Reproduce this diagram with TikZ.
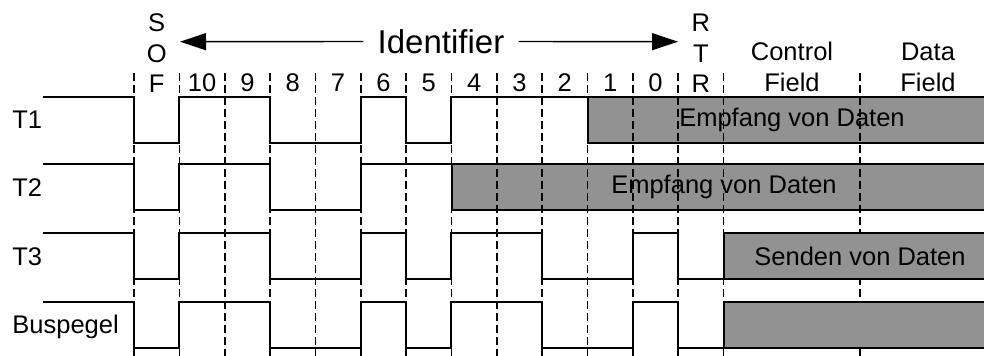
\documentclass[tikz,border=0pt]{standalone}
\usepackage{fontspec}
\setmainfont{Liberation Sans}
\usetikzlibrary{arrows.meta}

\definecolor{busygray}{RGB}{146,146,146}

\begin{document}
\begin{tikzpicture}[
    x=0.5pt, y=-0.5pt,
    wave/.style={
        line width=1pt,
        line join=miter,
    },
    busy/.style={
        draw,
        line width=1pt,
        fill=busygray,
    },
    slot/.style={
        line width=0.8pt,
        dash pattern=on 4pt off 2pt,
    },
    every node/.style={
        font=\fontsize{12.75}{15}\selectfont,
        inner sep=0pt,
    },
]
    \useasboundingbox (0,0) rectangle (984,355);
    \clip (0,0) rectangle (984,355);

    % bit boundaries: SOF, 10 ... 0, RTR, then control and data field
    \def\bw{45.35}
    \def\xs{134}

    % receiving stations, below the slot lines
    \draw[busy] (588,96.7) rectangle (996,142.7);
    \draw[busy] (452,164.3) rectangle (996,210.3);
    \node (rx1) at (792,119.7) {Empfang von Daten};
    \node (rx2) at (724,187.3) {Empfang von Daten};

    % waveforms (1 = recessive/high, 0 = dominant/low)
    \foreach \hi/\bits in {96.7/{0,1,1,0,0,1,0,1,1,1},
                           164.3/{0,1,1,0,0,1,1},
                           233.3/{0,1,1,0,0,1,0,1,1,0,0,1,0},
                           302.3/{0,1,1,0,0,1,0,1,1,0,0,1,0}} {
        \draw[wave] (43,\hi) -- (\xs,\hi)
            \foreach \b [count=\i] in \bits {
                |- ({\xs+\bw*\i},{\hi+46*(1-\b)})
            };
    }

    % dashed slot boundaries
    \foreach \i in {0,...,13} {
        \draw[slot] ({\xs+\bw*\i},73) -- ({\xs+\bw*\i},356);
    }
    \draw[slot] (860,73) -- (860,356);

    % sender and bus, on top
    \draw[busy] (724,233.3) rectangle (996,279.3);
    \draw[busy] (724,302.3) rectangle (996,348.3);
    \node (tx3) at (860,256.3) {Senden von Daten};

    % row labels
    \foreach \name/\base [count=\k] in {T1/128,T2/196.5,T3/265,Buspegel/333} {
        \node[anchor=base west] (row\k) at (12,\base) {\name};
    }

    % header
    \foreach \ch [count=\k] in {S,O,F} {
        \node[anchor=base] (sof\k) at ({\xs+\bw/2},{1.5+30.3*\k}) {\ch};
    }
    \foreach \ch [count=\k] in {R,T,R} {
        \node[anchor=base] (rtr\k) at ({\xs+\bw*12.5},{1.5+30.3*\k}) {\ch};
    }
    \foreach \bit [count=\i] in {10,9,...,0} {
        \node[anchor=base] (id\bit) at ({\xs+\bw*(\i+0.5)},91.5) {\bit};
    }
    \node[anchor=base] (ctrl) at (792,60.5) {Control};
    \node[anchor=base] (ctrlf) at (792,91.5) {Field};
    \node[anchor=base] (data) at (928,60.5) {Data};
    \node[anchor=base] (dataf) at (928,91.5) {Field};

    \node[font=\fontsize{16.5}{19}\selectfont,inner xsep=7pt] (ident) at (441,41.5) {Identifier};
    \coordinate (idL) at (180,41.7);
    \coordinate (idR) at (678,41.7);
    \draw[line width=0.7pt,-{Triangle[length=13pt,width=8.5pt]}] (ident.west) -- (idL);
    \draw[line width=0.7pt,-{Triangle[length=13pt,width=8.5pt]}] (ident.east) -- (idR);
\end{tikzpicture}
\end{document}
